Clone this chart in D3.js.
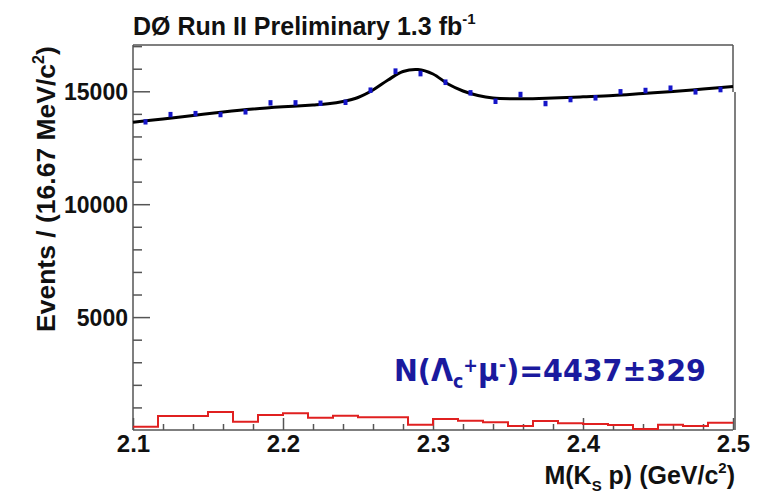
<!DOCTYPE html>
<html><head><meta charset="utf-8">
<script src="https://cdn.jsdelivr.net/npm/d3@7"></script>
<style>
html,body{margin:0;padding:0;background:#fff;}
svg{display:block;}
text{font-family:"Liberation Sans",Arial,Helvetica,sans-serif;font-weight:bold;}
</style></head>
<body>
<svg id="c" width="767" height="494"></svg>
<script>
// ---- data ----
const binEdges = [2.1, 2.5];
const nBins = 24;
const dataCounts = [13645,13969,14013,13969,14089,14488,14488,14470,14514,15047,15889,15787,
                    15401,14931,14559,14856,14457,14634,14710,14976,15033,15135,14976,15078];
const dataErrors = [117,118,118,118,119,120,120,120,120,123,126,126,
                    124,122,121,122,120,121,121,122,123,123,122,123];
const fitMass  = [2.10,2.12,2.14,2.16,2.18,2.20,2.22,2.23,2.24,2.25,2.26,2.27,2.28,2.29,2.30,2.31,2.32,2.33,2.34,2.36,2.38,2.40,2.42,2.44,2.46,2.48,2.50];
const fitValue = [13627,13773,13928,14083,14216,14314,14393,14446,14548,14726,15058,15500,15877,15965,15766,15323,15013,14814,14703,14668,14703,14756,14814,14903,14991,15102,15212];
const bgHist = [146,621,621,798,368,665,741,545,634,563,563,235,488,412,341,177,399,297,266,222,44,235,177,324];
const xTicks = [2.1,2.2,2.3,2.4,2.5];
const xTickLabels = ["2.1","2.2","2.3","2.4","2.5"];
const yTicks = [5000,10000,15000];
const yTickLabels = ["5000","10000","15000"];

const svg = d3.select("#c");
const L=133, R=733, T=45, B=430;
const x = d3.scaleLinear().domain(binEdges).range([L,R]);
const y = d3.scaleLinear().domain([0,17050]).range([B,T]);
const bw = (binEdges[1]-binEdges[0])/nBins;

// frame
const frameCol="#555";
svg.append("line").attr("x1",L).attr("x2",R).attr("y1",T).attr("y2",T).attr("stroke",frameCol).attr("stroke-width",1.5);
svg.append("line").attr("x1",R).attr("x2",R).attr("y1",T).attr("y2",92).attr("stroke",frameCol).attr("stroke-width",1.5);
svg.append("line").attr("x1",R+2).attr("x2",R+2).attr("y1",92).attr("y2",B).attr("stroke",frameCol).attr("stroke-width",1.5);

// axes
const xMinor = d3.range(0,21).map(i=>binEdges[0]+i*0.02).filter(v=>!xTicks.some(t=>Math.abs(t-v)<1e-6));
const yMinor = d3.range(1000,17001,1000).filter(v=>v%5000!==0);

const gx = svg.append("g").attr("transform",`translate(0,${B})`)
  .call(d3.axisBottom(x).tickValues(xTicks).tickFormat((d,i)=>xTickLabels[i]).tickSize(-12).tickSizeOuter(0).tickPadding(5));
svg.append("g").attr("transform",`translate(0,${B})`)
  .call(d3.axisBottom(x).tickValues(xMinor).tickFormat("").tickSize(-6).tickSizeOuter(0))
  .select(".domain").remove();
const gy = svg.append("g").attr("transform",`translate(${L},0)`)
  .call(d3.axisLeft(y).tickValues(yTicks).tickFormat((d,i)=>yTickLabels[i]).tickSize(-17).tickSizeOuter(0).tickPadding(5));
svg.append("g").attr("transform",`translate(${L},0)`)
  .call(d3.axisLeft(y).tickValues(yMinor).tickFormat("").tickSize(-9).tickSizeOuter(0))
  .select(".domain").remove();
svg.selectAll(".domain").attr("stroke",frameCol).attr("stroke-width",1.5);
svg.selectAll(".tick line").attr("stroke",frameCol).attr("stroke-width",1.5);
gx.selectAll(".tick text").attr("font-size",24).attr("fill","#111").attr("font-family","Liberation Sans, Arial, sans-serif").attr("font-weight","bold");
gy.selectAll(".tick text").attr("font-size",23).attr("fill","#111").attr("font-family","Liberation Sans, Arial, sans-serif").attr("font-weight","bold").attr("dy","0.36em");
gx.select(".domain").attr("d",`M${L},0H${R}`);
gy.select(".domain").attr("d",`M0,${T}V${B}`);

// background histogram (red)
const hpts=[];
bgHist.forEach((v,i)=>{const x0=binEdges[0]+i*bw;hpts.push([x0,v],[x0+bw,v]);});
svg.append("path").datum(hpts)
  .attr("d",d3.line().x(d=>x(d[0])).y(d=>y(d[1])))
  .attr("fill","none").attr("stroke","#e02020").attr("stroke-width",2);

// fit curve
svg.append("path").datum(fitMass.map((m,i)=>[m,fitValue[i]]))
  .attr("d",d3.line().x(d=>x(d[0])).y(d=>y(d[1])).curve(d3.curveCatmullRom))
  .attr("fill","none").attr("stroke","#000").attr("stroke-width",3);

// data points
svg.append("g").selectAll("line").data(dataCounts).join("line")
  .attr("x1",(d,i)=>x(binEdges[0]+(i+0.5)*bw)).attr("x2",(d,i)=>x(binEdges[0]+(i+0.5)*bw))
  .attr("y1",(d,i)=>y(d+dataErrors[i])).attr("y2",(d,i)=>y(d-dataErrors[i]))
  .attr("stroke","#1515c8").attr("stroke-width",4);

// title
const title = svg.append("text").attr("x",L).attr("y",35).attr("font-size",25).attr("fill","#111");
title.append("tspan").text("DØ Run II Preliminary 1.3 fb");
title.append("tspan").attr("font-size",15).attr("dy",-11).text("-1");

// y label
const yl = svg.append("text").attr("transform","translate(55,332) rotate(-90)").attr("text-anchor","start").attr("font-size",26.5).attr("fill","#111");
yl.append("tspan").text("Events / (16.67  MeV/c");
yl.append("tspan").attr("font-size",16).attr("dy",-11).text("2");
yl.append("tspan").attr("dy",11).text(")");

// x label
const xl = svg.append("text").attr("x",735).attr("y",484).attr("text-anchor","end").attr("font-size",25).attr("fill","#111");
xl.append("tspan").text("M(K");
xl.append("tspan").attr("font-size",15).attr("dy",7).text("S");
xl.append("tspan").attr("dy",-7).text(" p) (GeV/c");
xl.append("tspan").attr("font-size",15).attr("dy",-11).text("2");
xl.append("tspan").attr("dy",11).text(")");

// annotation
const ag = svg.append("g").attr("transform","translate(394,381)");
const an = ag.append("text").attr("x",0).attr("y",0).attr("font-size",31).attr("fill","#1a1a9e")
  .style("font-family","'DejaVu Sans',Verdana,sans-serif");
an.append("tspan").text("N(Λ");
an.append("tspan").attr("font-size",19).attr("dy",7).text("c");
an.append("tspan").attr("font-size",19).attr("dy",-16).text("+");
an.append("tspan").attr("dy",9).text("μ");
an.append("tspan").attr("font-size",19).attr("dy",-10).text("-");
an.append("tspan").attr("dy",10).text(")=4437±329");
const aw = an.node().getComputedTextLength();
an.attr("transform",`scale(${312/aw},1)`);
</script>
</body></html>
